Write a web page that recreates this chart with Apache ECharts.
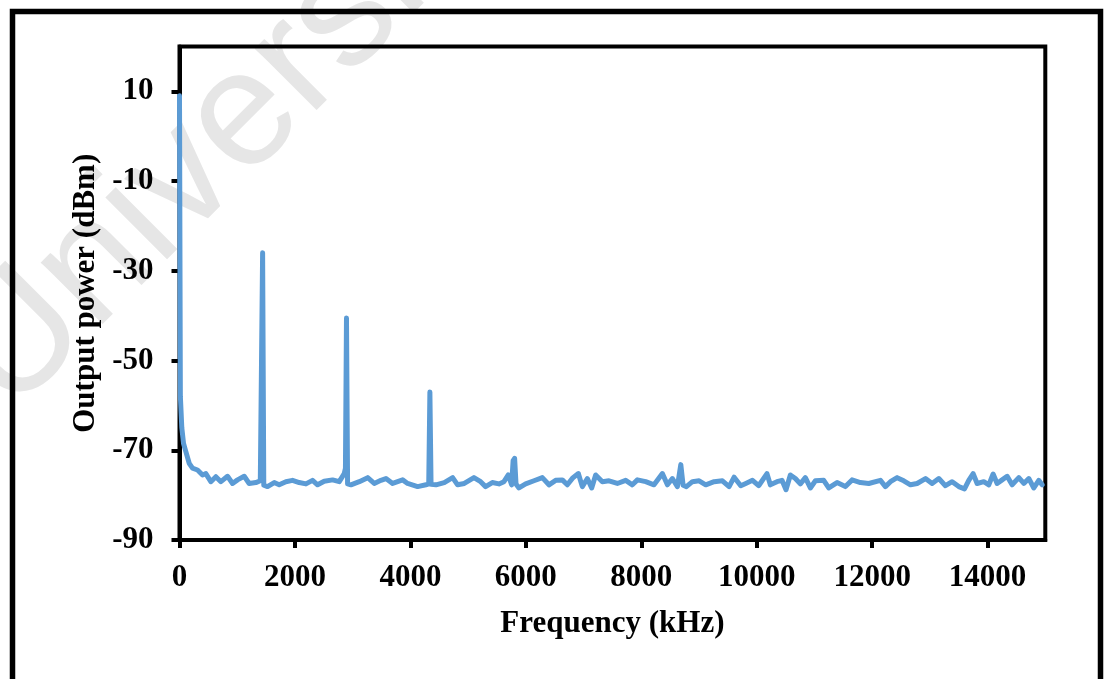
<!DOCTYPE html>
<html><head><meta charset="utf-8">
<script src="https://cdn.jsdelivr.net/npm/echarts@6/dist/echarts.min.js"></script>
<style>html,body{margin:0;padding:0;background:#fff}#c{width:1104px;height:679px}</style>
</head><body><div id="c"></div>
<script>
const freqKHz = [0,15,40,70,110,168,225,312,399,456,543,630,717,832,919,1005,1121,1207,1323,1400,1420,1440,1460,
1525,1641,1727,1843,1958,2074,2190,2305,2392,2507,2652,2768,2854,2875,2893,2912,2970,3115,3260,3374,3490,3577,3692,3866,3952,
4125,4270,4318,4338,4358,4443,4587,4732,4818,4934,5101,5217,5303,5419,5534,5621,5696,5754,5780,5806,5830,5881,5997,
6141,6286,6401,6517,6632,6719,6817,6910,6979,7066,7141,7210,7326,7441,7586,7730,7846,7933,8077,8221,8366,8453,8539,
8626,8685,8705,8725,8782,8886,9002,9117,9262,9406,9522,9609,9724,9811,9927,10034,10178,10236,10351,10438,10508,10583,
10670,10756,10843,10930,11017,11161,11248,11392,11537,11652,11797,11941,12144,12230,12317,12433,12548,12664,12779,
12924,13039,13155,13270,13386,13501,13600,13674,13750,13819,13934,14021,14096,14165,14252,14339,14425,14541,14628,
14714,14801,14887,14945];
const powerDbm = [9,-58,-65,-68.5,-70.3,-72.9,-74.0,-74.4,-75.5,-75.2,-77.0,-75.9,-77.0,-75.8,-77.4,-76.6,-75.8,-77.4,-77.2,-76.8,-76.5,-26,-77.8,
-78.1,-77.2,-77.7,-77.0,-76.7,-77.2,-77.5,-76.7,-77.7,-76.9,-76.6,-77.0,-75.2,-74.0,-40.5,-77.5,-77.7,-77.0,-76.1,-77.4,-76.7,-76.3,-77.4,-76.6,-77.4,
-78.1,-77.7,-77.5,-57,-77.6,-77.7,-77.2,-76.1,-77.7,-77.4,-76.1,-77.0,-78.1,-77.2,-77.5,-77.0,-75.5,-77.7,-72.3,-71.8,-77.5,-78.4,-77.5,
-76.8,-76.1,-77.7,-76.7,-76.6,-77.7,-76.1,-75.2,-78.1,-76.3,-78.4,-75.5,-77.0,-76.8,-77.4,-76.7,-77.7,-76.6,-77.0,-77.7,-75.2,-77.7,-76.3,
-78.1,-73.2,-72.8,-77.8,-78.1,-77.0,-76.8,-77.7,-77.0,-76.8,-78.1,-76.0,-77.9,-77.4,-76.7,-77.9,-75.2,-77.7,-77.0,-76.7,-78.8,-75.5,
-76.3,-77.5,-76.1,-78.4,-76.8,-76.7,-78.4,-77.2,-78.1,-76.6,-77.2,-77.4,-76.7,-78.1,-77.0,-76.1,-76.8,-77.7,-77.4,
-76.3,-77.4,-76.3,-77.9,-77.0,-78.1,-78.6,-76.7,-75.2,-77.4,-77.0,-77.7,-75.3,-77.4,-76.6,-75.8,-77.7,-76.1,-77.4,
-76.3,-78.4,-76.7,-77.7];
const yTickValues = [-90,-70,-50,-30,-10,10];
const xTickValues = [0,2000,4000,6000,8000,10000,12000,14000];
const xTitle = 'Frequency (kHz)';
const yTitle = 'Output power (dBm)';
const watermark = 'University';

const serif = "'Liberation Serif','Times New Roman',serif";
const chart = echarts.init(document.getElementById('c'), null, {renderer:'canvas'});
chart.setOption({
  animation:false,
  backgroundColor:'#fff',
  graphic:[
    {type:'text', x:-22, y:384, rotation:Math.PI/4, z:-10, silent:true,
     style:{text:watermark, fontSize:165, fontFamily:"'Liberation Sans',Arial,sans-serif", fill:'#e6e6e6', align:'left', verticalAlign:'middle'}},
    {type:'rect', shape:{x:12.5, y:11.5, width:1088, height:720}, z:100, silent:true,
     style:{fill:null, stroke:'#000', lineWidth:5.5}}
  ],
  grid:{left:179.5, right:58.7, top:46.5, bottom:139, show:true, borderColor:'#000', borderWidth:4, backgroundColor:'transparent'},
  xAxis:{type:'value', min:0, max:15000, interval:2000,
    name:xTitle, nameLocation:'middle', nameGap:68,
    nameTextStyle:{fontFamily:serif, fontWeight:'bold', fontSize:31, color:'#000'},
    axisLine:{show:true, onZero:false, lineStyle:{color:'#000', width:4}},
    axisTick:{show:true, length:8, lineStyle:{color:'#000', width:4}, customValues:xTickValues},
    axisLabel:{fontFamily:serif, fontWeight:'bold', fontSize:31, color:'#000', margin:22, customValues:xTickValues,
      formatter:v=>String(v)},
    splitLine:{show:false}},
  yAxis:{type:'value', min:-90, max:20,
    name:yTitle, nameLocation:'middle', nameGap:78,
    nameTextStyle:{fontFamily:serif, fontWeight:'bold', fontSize:31, color:'#000'},
    axisLine:{show:true, onZero:false, lineStyle:{color:'#000', width:4}},
    axisTick:{show:true, length:8, lineStyle:{color:'#000', width:4}, customValues:yTickValues},
    axisLabel:{fontFamily:serif, fontWeight:'bold', fontSize:31, color:'#000', margin:26, customValues:yTickValues,
      formatter:v=>String(v)},
    splitLine:{show:false}},
  series:[{type:'line', data:freqKHz.map((f,i)=>[f, powerDbm[i]]), showSymbol:false, symbol:'none',
    lineStyle:{color:'#5b9bd5', width:5, join:'round', cap:'round'}, clip:true}]
});
</script></body></html>
